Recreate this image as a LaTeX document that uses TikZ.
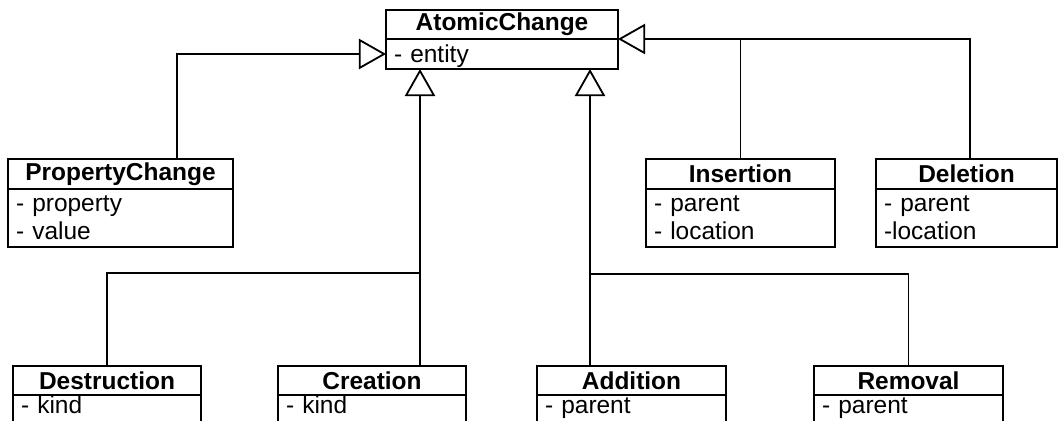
\documentclass[tikz,border=0pt]{standalone}
\usepackage{fontspec}
\setmainfont{Liberation Sans}
\usetikzlibrary{arrows.meta,calc,positioning}

\begin{document}
\begin{tikzpicture}[font=\fontsize{17.4}{20.6}\selectfont]
  \tikzset{
    umlname/.style={
      draw,
      line width=1.3pt,
      font=\fontsize{17.4}{20.6}\selectfont\bfseries,
      minimum height=0.75cm,
      inner sep=0pt,
      outer sep=0pt,
      anchor=north west
    },
    umlattr/.style={
      draw,
      line width=1.3pt,
      text width=#1,
      align=left,
      inner xsep=0.2cm,
      inner ysep=0pt,
      outer sep=0pt,
      anchor=north
    },
    umlinherit/.style={
      -{Triangle[open,length=0.68cm,width=0.76cm]},
      line width=1.3pt
    },
    umlline/.style={line width=1.3pt}
  }
  \clip (0,0) rectangle (26.45,10.5);

  % base class
  \node[umlname,minimum width=5.8cm,minimum height=0.725cm] (acname) at (9.65,10.25) {AtomicChange};
  \node[umlattr=5.4cm,text height=0.58cm,text depth=0.17cm] (acattr) at (acname.south) {- entity};

  % middle row
  \node[umlname,minimum width=5.625cm] (pcname) at (0.2,6.525) {PropertyChange};
  \node[umlattr=5.225cm,text height=0.55cm,text depth=0.9cm] (pcattr) at (pcname.south) {- property\\- value};
  \node[umlname,minimum width=4.725cm] (insname) at (16.15,6.525) {Insertion};
  \node[umlattr=4.325cm,text height=0.55cm,text depth=0.9cm] (insattr) at (insname.south) {- parent\\- location};
  \node[umlname,minimum width=4.525cm] (delname) at (21.9,6.525) {Deletion};
  \node[umlattr=4.125cm,text height=0.55cm,text depth=0.9cm] (delattr) at (delname.south) {- parent\\-location};

  % bottom row
  \node[umlname,minimum width=4.7cm,minimum height=0.725cm] (desname) at (0.325,1.35) {Destruction};
  \node[umlattr=4.3cm,text height=0.47cm,text depth=0.28cm] (desattr) at (desname.south) {- kind};
  \node[umlname,minimum width=4.7cm,minimum height=0.725cm] (crename) at (6.95,1.35) {Creation};
  \node[umlattr=4.3cm,text height=0.47cm,text depth=0.28cm] (creattr) at (crename.south) {- kind};
  \node[umlname,minimum width=4.725cm,minimum height=0.725cm] (addname) at (13.425,1.35) {Addition};
  \node[umlattr=4.325cm,text height=0.47cm,text depth=0.28cm] (addattr) at (addname.south) {- parent};
  \node[umlname,minimum width=4.725cm,minimum height=0.725cm] (remname) at (20.35,1.35) {Removal};
  \node[umlattr=4.325cm,text height=0.47cm,text depth=0.28cm] (remattr) at (remname.south) {- parent};

  % generalisations
  \draw[umlinherit] ([xshift=1.4125cm]pcname.north) |- (acattr.west);
  \draw[umlinherit] ([xshift=0.0875cm]delname.north) |- (acname.south east);
  \draw[umlline] (insname.north) -- (insname.north |- acname.south east);

  \coordinate (crefoot) at ([xshift=1.2cm]crename.north);
  \coordinate (leftbus) at ($(crefoot)+(0,2.325)$);
  \draw[umlinherit] (crefoot) -- (crefoot |- acattr.south);
  \draw[umlline] (desname.north) |- (leftbus);

  \coordinate (addfoot) at ([xshift=-1.0375cm]addname.north);
  \coordinate (rightbus) at ($(addfoot)+(0,2.3)$);
  \draw[umlinherit] (addfoot) -- (addfoot |- acattr.south);
  \draw[umlline] (remname.north) |- (rightbus);
\end{tikzpicture}
\end{document}
